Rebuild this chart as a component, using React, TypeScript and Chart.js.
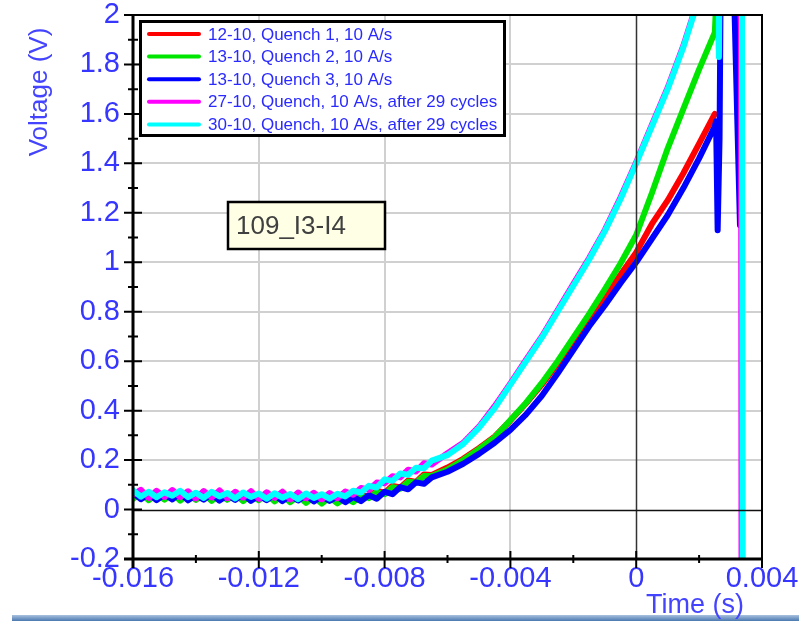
import React, { useEffect, useRef } from 'react';
import { Chart, registerables } from 'chart.js';

Chart.register(...registerables);

const FONT = '"Liberation Sans", Arial, sans-serif';

const seriesLabels = [
  '12-10, Quench 1, 10 A/s',
  '13-10, Quench 2, 10 A/s',
  '13-10, Quench 3, 10 A/s',
  '27-10, Quench, 10 A/s, after 29 cycles',
  '30-10, Quench, 10 A/s, after 29 cycles',
];
const seriesColors = ['#ff0000', '#00e600', '#0000ff', '#ff00ff', '#00ffff'];

// shared sampling times (s)
const timeS = [
  -0.016, -0.01575, -0.0155, -0.01525, -0.015, -0.01475, -0.0145, -0.01425, -0.014, -0.01375,
  -0.0135, -0.01325, -0.013, -0.01275, -0.0125, -0.01225, -0.012, -0.01175, -0.0115, -0.01125,
  -0.011, -0.01075, -0.0105, -0.01025, -0.01, -0.00975, -0.0095, -0.00925, -0.009, -0.00875,
  -0.0085, -0.00825, -0.008, -0.00775, -0.0075, -0.00725, -0.007, -0.00675, -0.0065,
  -0.006, -0.0055, -0.005, -0.0045, -0.004, -0.0035, -0.003, -0.0025, -0.002, -0.0015,
  -0.001, -0.0005, 0, 0.0005, 0.001, 0.0015, 0.002, 0.0025,
];

const redV = [
  0.050, 0.072, 0.040, 0.067, 0.043, 0.069, 0.039, 0.065, 0.041, 0.070,
  0.038, 0.064, 0.042, 0.068, 0.037, 0.063, 0.040, 0.066, 0.036, 0.062,
  0.039, 0.065, 0.035, 0.061, 0.038, 0.056, 0.034, 0.053, 0.036, 0.060,
  0.050, 0.076, 0.067, 0.096, 0.089, 0.118, 0.112, 0.142, 0.140,
  0.17, 0.205, 0.248, 0.295, 0.36, 0.43, 0.505, 0.59, 0.678, 0.77,
  0.86, 0.95, 1.04, 1.155, 1.25, 1.36, 1.48, 1.60,
];
const greenV = [
  0.044, 0.066, 0.038, 0.063, 0.040, 0.067, 0.036, 0.061, 0.039, 0.065,
  0.035, 0.060, 0.040, 0.064, 0.034, 0.059, 0.038, 0.062, 0.033, 0.058,
  0.030, 0.055, 0.027, 0.052, 0.024, 0.050, 0.025, 0.047, 0.030, 0.054,
  0.046, 0.070, 0.062, 0.090, 0.084, 0.112, 0.108, 0.136, 0.136,
  0.162, 0.2, 0.244, 0.292, 0.362, 0.432, 0.512, 0.60, 0.695, 0.79,
  0.89, 0.995, 1.11, 1.28, 1.46, 1.62, 1.78, 1.93,
];
const blueV = [
  0.068, 0.042, 0.064, 0.038, 0.061, 0.041, 0.066, 0.037, 0.059, 0.040,
  0.063, 0.036, 0.058, 0.039, 0.062, 0.035, 0.057, 0.038, 0.060, 0.034,
  0.056, 0.037, 0.058, 0.033, 0.054, 0.035, 0.052, 0.030, 0.051, 0.034,
  0.058, 0.044, 0.072, 0.062, 0.091, 0.082, 0.110, 0.104, 0.130,
  0.153, 0.185, 0.225, 0.27, 0.322, 0.385, 0.46, 0.55, 0.645, 0.74,
  0.825, 0.915, 1.0, 1.095, 1.19, 1.30, 1.42, 1.55,
];
const magentaV = [
  0.060, 0.080, 0.047, 0.076, 0.051, 0.079, 0.050, 0.074, 0.045, 0.075,
  0.049, 0.077, 0.046, 0.072, 0.048, 0.074, 0.043, 0.070, 0.047, 0.072,
  0.041, 0.069, 0.045, 0.068, 0.041, 0.067, 0.046, 0.073, 0.060, 0.087,
  0.080, 0.109, 0.106, 0.135, 0.130, 0.161, 0.154, 0.187, 0.182,
  0.228, 0.27, 0.335, 0.418, 0.51, 0.606, 0.70, 0.806, 0.912, 1.016,
  1.13, 1.262, 1.405, 1.556, 1.706, 1.876, 2.075, 2.3,
];
const cyanV = [
  0.078, 0.052, 0.072, 0.050, 0.070, 0.056, 0.076, 0.050, 0.068, 0.047,
  0.072, 0.053, 0.067, 0.045, 0.069, 0.051, 0.065, 0.044, 0.066, 0.048,
  0.063, 0.042, 0.065, 0.047, 0.062, 0.044, 0.064, 0.053, 0.076, 0.069,
  0.096, 0.089, 0.122, 0.116, 0.146, 0.141, 0.169, 0.167, 0.198,
  0.22, 0.265, 0.33, 0.41, 0.505, 0.6, 0.695, 0.8, 0.905, 1.01,
  1.125, 1.255, 1.40, 1.55, 1.70, 1.87, 2.07, 2.3,
];

// end-of-record spikes (quench / dump)
const redTailT: number[] = [];
const redTailV: number[] = [];
const greenTailT = [0.00256, 0.00313, 0.00325, 0.00336];
const greenTailV = [2.1, 2.4, 1.65, 2.4];
const blueTailT = [0.00254, 0.00259, 0.00265, 0.0027, 0.00305, 0.0033, 0.00336];
const blueTailV = [1.57, 1.13, 1.5, 2.4, 2.4, 1.15, 2.4];
const magentaTailT = [0.0026, 0.00263, 0.00266, 0.00333, 0.00335];
const magentaTailV = [2.4, 1.86, 2.4, 2.4, -0.4];
const cyanTailT = [0.0026, 0.00263, 0.00266, 0.00336, 0.00339];
const cyanTailV = [2.4, 1.83, 2.4, 2.4, -0.4];

const xMin = -0.016;
const xMax = 0.004;
const xStep = 0.004;
const xMinorTicks = [-0.014, -0.01, -0.006, -0.002, 0.002];
const yMin = -0.2;
const yMax = 2;
const yStep = 0.2;
const yMinorTicks = [-0.1, 0.1, 0.3, 0.5, 0.7, 0.9, 1.1, 1.3, 1.5, 1.7, 1.9];

const annotationText = '109_I3-I4';
const xTitle = 'Time (s)';
const yTitle = 'Voltage (V)';

function build(v: number[], tt: number[], tv: number[]) {
  const pts = timeS.map((t, i) => ({ x: t, y: v[i] }));
  tt.forEach((t, i) => pts.push({ x: t, y: tv[i] }));
  return pts;
}

const decorPlugin = {
  id: 'decor',
  afterDatasetsDraw(chart: any) {
    const { ctx, chartArea: a, scales } = chart;
    const xs = scales.x;
    const ys = scales.y;
    ctx.save();
    // zero lines
    const x0 = Math.round(xs.getPixelForValue(0)) + 0.5;
    const y0 = Math.round(ys.getPixelForValue(0)) + 0.5;
    ctx.strokeStyle = '#333333';
    ctx.lineWidth = 1.5;
    ctx.beginPath();
    ctx.moveTo(x0, a.top);
    ctx.lineTo(x0, a.bottom);
    ctx.stroke();
    ctx.strokeStyle = '#111111';
    ctx.beginPath();
    ctx.moveTo(a.left, y0);
    ctx.lineTo(a.right, y0);
    ctx.stroke();
    // top/right borders
    ctx.strokeStyle = '#000';
    ctx.lineWidth = 2;
    ctx.beginPath();
    ctx.moveTo(a.left, a.top);
    ctx.lineTo(a.right, a.top);
    ctx.lineTo(a.right, a.bottom);
    ctx.stroke();
    // axes
    ctx.lineWidth = 3;
    ctx.beginPath();
    ctx.moveTo(a.left, a.top - 1);
    ctx.lineTo(a.left, a.bottom + 9);
    ctx.moveTo(a.left - 9, a.bottom);
    ctx.lineTo(a.right + 1, a.bottom);
    ctx.stroke();
    // ticks
    ctx.lineWidth = 2;
    ctx.beginPath();
    ys.ticks.forEach((t: any) => {
      const p = ys.getPixelForValue(t.value);
      ctx.moveTo(a.left - 9, p);
      ctx.lineTo(a.left + 9, p);
    });
    yMinorTicks.forEach((v) => {
      const p = ys.getPixelForValue(v);
      ctx.moveTo(a.left - 5, p);
      ctx.lineTo(a.left + 5, p);
    });
    xs.ticks.forEach((t: any) => {
      const p = xs.getPixelForValue(t.value);
      ctx.moveTo(p, a.bottom - 8);
      ctx.lineTo(p, a.bottom + 9);
    });
    xMinorTicks.forEach((v) => {
      const p = xs.getPixelForValue(v);
      ctx.moveTo(p, a.bottom - 4);
      ctx.lineTo(p, a.bottom + 4);
    });
    ctx.stroke();
    ctx.restore();
  },
  afterDraw(chart: any) {
    const { ctx } = chart;
    const W = chart.width;
    ctx.save();
    // legend
    ctx.fillStyle = '#ffffff';
    ctx.fillRect(140, 21, 364, 114);
    ctx.strokeStyle = '#000';
    ctx.lineWidth = 3;
    ctx.strokeRect(140.5, 21.5, 364, 114);
    ctx.font = `17px ${FONT}`;
    ctx.textBaseline = 'middle';
    ctx.textAlign = 'left';
    chart.data.datasets.forEach((ds: any, i: number) => {
      const y = 34 + i * 22.6;
      ctx.strokeStyle = ds.borderColor;
      ctx.lineWidth = 4;
      ctx.lineCap = 'round';
      ctx.beginPath();
      ctx.moveTo(149, y);
      ctx.lineTo(199, y);
      ctx.stroke();
      ctx.fillStyle = '#2a2aff';
      ctx.fillText(ds.label, 208, y + 1);
    });
    // annotation box
    ctx.fillStyle = '#ffffe6';
    ctx.fillRect(228, 202, 157, 47);
    ctx.strokeStyle = '#000';
    ctx.lineWidth = 2.5;
    ctx.strokeRect(228, 202, 157, 47);
    ctx.fillStyle = '#404040';
    ctx.font = `26px ${FONT}`;
    ctx.fillText(annotationText, 236, 227);
    // bottom band
    const g = ctx.createLinearGradient(0, 615, 0, 621);
    g.addColorStop(0, '#a9c1de');
    g.addColorStop(1, '#4a78b0');
    ctx.fillStyle = g;
    ctx.fillRect(12, 615, W - 12, 6);
    // axis titles
    ctx.fillStyle = '#4444ff';
    ctx.font = `27px ${FONT}`;
    ctx.textAlign = 'center';
    ctx.fillText(xTitle, 695, 606);
    ctx.translate(40, 92);
    ctx.rotate(-Math.PI / 2);
    ctx.font = `26px ${FONT}`;
    ctx.fillText(yTitle, 0, 0);
    ctx.restore();
  },
};

export default function App() {
  const ref = useRef<HTMLCanvasElement>(null);
  useEffect(() => {
    document.body.style.margin = '0';
    const series = [
      build(redV, redTailT, redTailV),
      build(greenV, greenTailT, greenTailV),
      build(blueV, blueTailT, blueTailV),
      build(magentaV, magentaTailT, magentaTailV),
      build(cyanV, cyanTailT, cyanTailV),
    ];
    const drawOrder = [4, 3, 2, 1, 0];
    const chart = new Chart(ref.current as HTMLCanvasElement, {
      type: 'line',
      data: {
        datasets: series.map((d, i) => ({
          label: seriesLabels[i],
          data: d,
          borderColor: seriesColors[i],
          backgroundColor: seriesColors[i],
          borderWidth: 6,
          pointRadius: 0,
          tension: 0,
          fill: false,
          clip: 0,
          order: drawOrder[i],
          borderJoinStyle: 'round',
          borderCapStyle: 'round',
        })),
      },
      options: {
        animation: false,
        responsive: false,
        events: [],
        layout: { padding: { left: 0, top: 15, right: 37, bottom: 0 } },
        scales: {
          x: {
            type: 'linear',
            min: xMin,
            max: xMax,
            ticks: {
              stepSize: xStep,
              autoSkip: false,
              maxRotation: 0,
              padding: 3,
              color: '#3636ff',
              font: { family: FONT, size: 29 },
              callback: (v: any) => String(Number(Number(v).toFixed(3))),
            },
            grid: {
              drawTicks: false,
              lineWidth: 2,
              color: (c: any) => {
                const v = c.tick ? c.tick.value : 0;
                if (Math.abs(v) < 1e-9 || Math.abs(v - xMin) < 1e-9 || Math.abs(v - xMax) < 1e-9) return 'rgba(0,0,0,0)';
                return '#d0d0d0';
              },
            },
            border: { display: false },
            afterFit: (s: any) => {
              s.height = 62;
              s.paddingLeft = 0;
              s.paddingRight = 0;
            },
          },
          y: {
            type: 'linear',
            min: yMin,
            max: yMax,
            ticks: {
              stepSize: yStep,
              autoSkip: false,
              padding: 13,
              color: '#3636ff',
              font: { family: FONT, size: 29 },
              callback: (v: any) => String(Number(Number(v).toFixed(2))),
            },
            grid: {
              drawTicks: false,
              lineWidth: 2,
              color: (c: any) => {
                const v = c.tick ? c.tick.value : 0;
                if (Math.abs(v) < 1e-9 || Math.abs(v - yMin) < 1e-9 || Math.abs(v - yMax) < 1e-9) return 'rgba(0,0,0,0)';
                return '#d0d0d0';
              },
            },
            border: { display: false },
            afterFit: (s: any) => {
              s.width = 133;
              s.paddingTop = 0;
              s.paddingBottom = 0;
            },
          },
        },
        plugins: {
          legend: { display: false },
          tooltip: { enabled: false },
          title: { display: false },
        },
      },
      plugins: [decorPlugin],
    } as any);
    return () => chart.destroy();
  }, []);
  return <canvas ref={ref} width={799} height={621} style={{ display: 'block' }} />;
}
